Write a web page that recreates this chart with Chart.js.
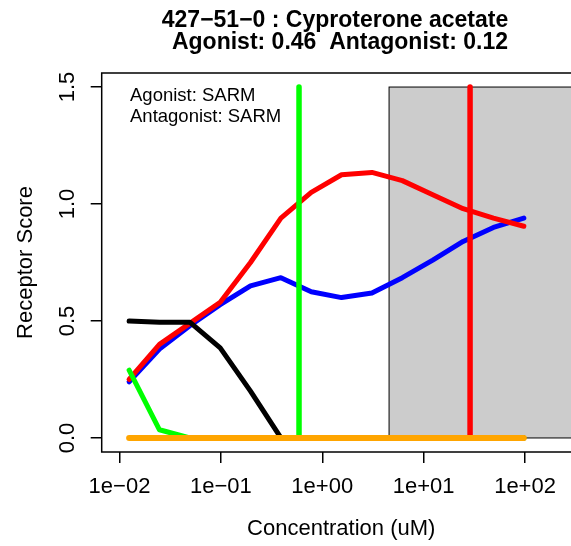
<!DOCTYPE html>
<html>
<head>
<meta charset="utf-8">
<script src="https://cdn.jsdelivr.net/npm/chart.js@4/dist/chart.umd.min.js"></script>
<style>
html, body { margin: 0; padding: 0; background: #fff; overflow: hidden; }
#wrap { width: 571px; height: 546px; overflow: hidden; }
</style>
</head>
<body>
<div id="wrap"><canvas id="myChart" width="600" height="546"></canvas></div>
<script>
// data block
const conc = [0.01245, 0.0248, 0.0494, 0.0985, 0.196, 0.391, 0.779, 1.55, 3.09, 6.16, 12.3, 24.5, 48.8, 97.3];
const redScore = [0.25, 0.40, 0.49, 0.58, 0.75, 0.94, 1.05, 1.125, 1.135, 1.10, 1.04, 0.98, 0.94, 0.905];
const blueScore = [0.24, 0.38, 0.48, 0.57, 0.65, 0.685, 0.625, 0.60, 0.62, 0.685, 0.76, 0.84, 0.90, 0.94];
const blackScore = [0.50, 0.495, 0.495, 0.385, 0.20, 0, 0, 0, 0, 0, 0, 0, 0, 0];
const greenScore = [0.29, 0.035, 0, 0, 0, 0, 0, 0, 0, 0, 0, 0, 0, 0];
const orangeScore = [0, 0, 0, 0, 0, 0, 0, 0, 0, 0, 0, 0, 0, 0];
const greenCut = 0.59;     // vertical green line
const redCut = 28.7;       // vertical red line
const grayFrom = 4.56;     // shaded region start
const grayTo = 1000;
const cutTop = 1.5;
const xTicks = [0.01, 0.1, 1, 10, 100];
const xTickLabels = ['1e\u221202', '1e\u221201', '1e+00', '1e+01', '1e+02'];
const yTicks = [0, 0.5, 1, 1.5];
const yTickLabels = ['0.0', '0.5', '1.0', '1.5'];
const titleLines = ['427\u221251\u22120 : Cyproterone acetate', 'Agonist: 0.46  Antagonist: 0.12'];
const noteLines = ['Agonist: SARM', 'Antagonist: SARM'];

const FONT = "'Liberation Sans', Arial, sans-serif";

function pts(ys) {
    return conc.map((c, i) => ({x: c, y: ys[i]}));
}
function vline(xv) {
    return [{x: xv, y: 0}, {x: xv, y: cutTop}];
}
function line(data, color, order, width) {
    return {
        data: data, borderColor: color, borderWidth: width || 5, order: order,
        pointRadius: 0, tension: 0, fill: false,
        borderCapStyle: 'round', borderJoinStyle: 'round'
    };
}

// gray box, frame, titles and notes
const extras = {
    id: 'extras',
    beforeDatasetsDraw(chart) {
        const {ctx, scales: {x, y}} = chart;
        const l = x.getPixelForValue(grayFrom), r = x.getPixelForValue(grayTo);
        const t = y.getPixelForValue(cutTop), b = y.getPixelForValue(0);
        ctx.save();
        ctx.fillStyle = '#cccccc';
        ctx.fillRect(l, t, r - l, b - t);
        ctx.strokeStyle = '#000';
        ctx.lineWidth = 1;
        ctx.strokeRect(l, t, r - l, b - t);
        ctx.restore();
    },
    afterDraw(chart) {
        const {ctx, chartArea: a} = chart;
        ctx.save();
        ctx.strokeStyle = '#000';
        ctx.lineWidth = 1.5;
        ctx.strokeRect(a.left, a.top, a.right - a.left, a.bottom - a.top);
        ctx.fillStyle = '#000';
        ctx.textAlign = 'center';
        ctx.textBaseline = 'alphabetic';
        ctx.font = 'bold 23px ' + FONT;
        ctx.fillText(titleLines[0], 335, 26.5);
        ctx.fillText(titleLines[1], 340, 48.5);
        ctx.textAlign = 'left';
        ctx.font = '18.5px ' + FONT;
        ctx.fillText(noteLines[0], 130, 100.5);
        ctx.fillText(noteLines[1], 130, 122);
        ctx.restore();
    }
};

const tickFont = {family: FONT, size: 22};

const config = {
    type: 'line',
    data: {
        datasets: [
            line(pts(orangeScore), '#ffa500', 0, 6),
            line(vline(redCut), '#ff0000', 1, 5.5),
            line(vline(greenCut), '#00ff00', 2, 5.5),
            line(pts(greenScore), '#00ff00', 3),
            line(pts(blackScore), '#000000', 4),
            line(pts(redScore), '#ff0000', 5),
            line(pts(blueScore), '#0000ff', 6)
        ]
    },
    options: {
        responsive: false,
        animation: false,
        layout: {padding: {top: 73, right: 19.2, left: 0, bottom: 0}},
        plugins: {legend: {display: false}, tooltip: {enabled: false}, title: {display: false}},
        scales: {
            x: {
                type: 'logarithmic',
                min: 0.00668, max: 354.8,
                afterBuildTicks: s => { s.ticks = xTicks.map(v => ({value: v})); },
                afterFit: s => { s.height = 94; },
                ticks: {
                    callback: (v, i) => xTickLabels[i],
                    autoSkip: false, maxRotation: 0, minRotation: 0,
                    color: '#000', font: tickFont, padding: 11
                },
                grid: {drawOnChartArea: false, drawTicks: true, tickLength: 11, color: '#000', lineWidth: 1.5},
                border: {display: false},
                title: {display: true, text: 'Concentration (uM)', color: '#000', font: tickFont, padding: {top: 0, bottom: 3.5}}
            },
            y: {
                min: -0.06, max: 1.56,
                afterBuildTicks: s => { s.ticks = yTicks.map(v => ({value: v})); },
                afterFit: s => { s.width = 101.7; },
                ticks: {
                    callback: (v, i) => yTickLabels[i],
                    minRotation: 90, maxRotation: 90, crossAlign: 'center',
                    color: '#000', font: tickFont, padding: 7
                },
                grid: {drawOnChartArea: false, drawTicks: true, tickLength: 11, color: '#000', lineWidth: 1.5},
                border: {display: false},
                title: {display: true, text: 'Receptor Score', color: '#000', font: tickFont, padding: {top: 12.5, bottom: 0}}
            }
        }
    },
    plugins: [extras]
};

const myChart = new Chart(document.getElementById('myChart').getContext('2d'), config);
</script>
</body>
</html>
